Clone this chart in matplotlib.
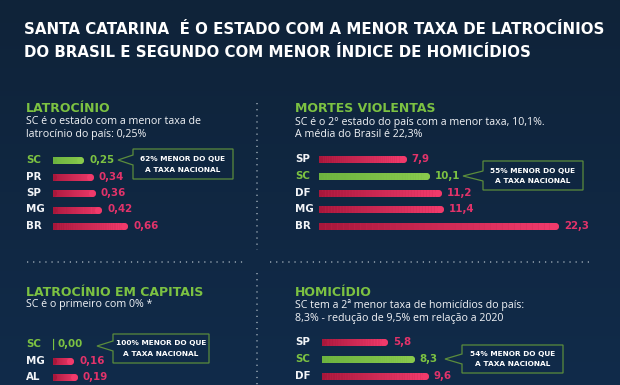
import numpy as np
import matplotlib
matplotlib.use("Agg")
import matplotlib.pyplot as plt
from matplotlib.collections import LineCollection
from matplotlib.colors import to_rgb
from matplotlib.patches import Polygon
from matplotlib.transforms import blended_transform_factory

plt.rcParams["font.family"] = ["Open Sans", "DejaVu Sans"]
BOLD = ["DejaVu Sans"]

title_lines = ["SANTA CATARINA  É O ESTADO COM A MENOR TAXA DE LATROCÍNIOS",
               "DO BRASIL E SEGUNDO COM MENOR ÍNDICE DE HOMICÍDIOS"]

lat_states = ["SC", "PR", "SP", "MG", "BR"]
lat_values = [0.25, 0.34, 0.36, 0.42, 0.66]

mortes_states = ["SP", "SC", "DF", "MG", "BR"]
mortes_values = [7.9, 10.1, 11.2, 11.4, 22.3]

capitais_states = ["SC", "MG", "AL"]
capitais_values = [0.00, 0.16, 0.19]

homic_states = ["SP", "SC", "DF"]
homic_values = [5.8, 8.3, 9.6]

headings = ["LATROCÍNIO", "MORTES VIOLENTAS", "LATROCÍNIO EM CAPITAIS", "HOMICÍDIO"]
subtitles = [["SC é o estado com a menor taxa de", "latrocínio do país: 0,25%"],
             ["SC é o 2° estado do país com a menor taxa, 10,1%.", "A média do Brasil é 22,3%"],
             ["SC é o primeiro com 0% *"],
             ["SC tem a 2ª menor taxa de homicídios do país:", "8,3% - redução de 9,5% em relação a 2020"]]
callouts = [["62% MENOR DO QUE", "A TAXA NACIONAL"],
            ["55% MENOR DO QUE", "A TAXA NACIONAL"],
            ["100% MENOR DO QUE", "A TAXA NACIONAL"],
            ["54% MENOR DO QUE", "A TAXA NACIONAL"]]

# ---- style ----
W, H = 620, 385
GREEN = "#7cc242"
PINK = "#e2336a"
RED0, RED1 = "#a8173b", "#f03a6b"
GRN0, GRN1 = "#6cb33f", "#88c94c"
WHITE = "#f2f4f7"
BOX = "#5b8c3c"
LW = 7 * 0.72  # bar thickness in points

fig = plt.figure(figsize=(W / 100, H / 100), dpi=100)

# background in pixel coordinates
bg = fig.add_axes([0, 0, 1, 1])
bg.set_xlim(0, W)
bg.set_ylim(H, 0)
bg.axis("off")
grad = np.linspace(0, 1, 256)[:, None]
top, bot = np.array(to_rgb("#0f2339")), np.array(to_rgb("#112b4a"))
img = top + (bot - top) * grad[..., None]
bg.imshow(np.repeat(img, 2, axis=1), extent=[0, W, H, 0], aspect="auto", zorder=0)

# title
for i, line in enumerate(title_lines):
    bg.text(24, 30 + 22.5 * i, line, color="white", fontsize=10.8, fontweight="bold",
            family=BOLD, va="center", ha="left")

# dotted separators
dot = dict(color="#b8c4cc", lw=1.1, linestyle=(0, (0.8, 3.2)), alpha=0.8)
bg.plot([27, 247], [262, 262], **dot)
bg.plot([270, 590], [262, 262], **dot)
bg.plot([257, 257], [103, 250], **dot)
bg.plot([257, 257], [273, 385], **dot)


def panel_text(x, y_head, y_subs, heading, subs):
    bg.text(x, y_head, heading, color=GREEN, fontsize=9, fontweight="bold",
            family=BOLD, va="center", ha="left")
    for yy, s in zip(y_subs, subs):
        bg.text(x, yy, s, color=WHITE, fontsize=7.7, va="center", ha="left")


def callout(x0, y0, x1, y1, tip, lines):
    ym = tip[1]
    pts = [(x0, y0), (x1, y0), (x1, y1), (x0, y1), (x0, ym + 5), tip, (x0, ym - 5)]
    bg.add_patch(Polygon(pts, closed=True, fill=False, edgecolor=BOX, lw=0.9))
    cy = (y0 + y1) / 2
    for dy, s in zip([-5, 5.5], lines):
        bg.text((x0 + x1) / 2, cy + dy, s, color="white", fontsize=5.3,
                fontweight="bold", family=BOLD, ha="center", va="center")


def bar_panel(left, first_row, spacing, scale, width, states, values, decimals, label_x):
    n = len(states)
    topy = first_row - spacing / 2
    ax = fig.add_axes([left / W, 1 - (topy + n * spacing) / H, width / W, n * spacing / H])
    ax.set_xlim(0, width / scale)
    ax.set_ylim(n - 0.5, -0.5)
    ax.axis("off")
    tr = blended_transform_factory(fig.transFigure, ax.transData)
    txt = dict(fontsize=7.4, fontweight="bold", family=BOLD, va="center", ha="left")
    for i, (st, v) in enumerate(zip(states, values)):
        is_sc = st == "SC"
        c0, c1 = (GRN0, GRN1) if is_sc else (RED0, RED1)
        txt_col = GREEN if is_sc else PINK
        ax.text(label_x / W, i, st, transform=tr, color=GREEN if is_sc else WHITE, **txt)
        lbl = f"{v:.{decimals}f}".replace(".", ",")
        if v == 0:
            ax.plot([0, 0], [i - 0.28, i + 0.28], color=GREEN, lw=0.9)
            ax.annotate(lbl, xy=(0, i), xytext=(3, 0), textcoords="offset points",
                        color=txt_col, annotation_clip=False, **txt)
            continue
        k = 40
        xs = np.linspace(0, v, k + 1)
        segs = [[(xs[j], i), (xs[j + 1], i)] for j in range(k)]
        a, b = np.array(to_rgb(c0)), np.array(to_rgb(c1))
        cols = [a + (b - a) * t for t in np.linspace(0, 1, k)]
        ax.plot([0, v], [i, i], color=(a + b) / 2, lw=LW, solid_capstyle="round")
        ax.add_collection(LineCollection(segs, colors=cols, linewidths=LW, capstyle="butt"))
        ax.scatter([0], [i], s=LW ** 2, color=c0, linewidths=0, zorder=3)
        ax.scatter([v], [i], s=LW ** 2, color=c1, linewidths=0, zorder=3)
        ax.annotate(lbl, xy=(v, i), xytext=(6.5, 0), textcoords="offset points",
                    color=txt_col, annotation_clip=False, **txt)
    return ax


# panel 1: latrocinio
panel_text(26, 108, [121, 134], headings[0], subtitles[0])
bar_panel(53, 160, 16.5, 108, 190, lat_states, lat_values, 2, 26)
callout(133, 149, 233, 179, (118, 160), callouts[0])

# panel 2: mortes violentas
panel_text(295, 108, [122, 135], headings[1], subtitles[1])
bar_panel(319, 159.2, 16.7, 10.6, 280, mortes_states, mortes_values, 1, 295)
callout(483, 161, 583, 190, (463, 176), callouts[1])

# panel 3: latrocinio em capitais
panel_text(26, 292, [304], headings[2], subtitles[2])
bar_panel(53, 344, 16.5, 108, 190, capitais_states, capitais_values, 2, 26)
callout(113, 334, 209, 363, (97, 346), callouts[2])

# panel 4: homicidio
panel_text(295, 292, [305, 319], headings[3], subtitles[3])
bar_panel(322, 342, 17, 10.7, 280, homic_states, homic_values, 1, 295)
callout(462, 345, 563, 373, (445, 359), callouts[3])

fig.savefig("out.png", dpi=100)
